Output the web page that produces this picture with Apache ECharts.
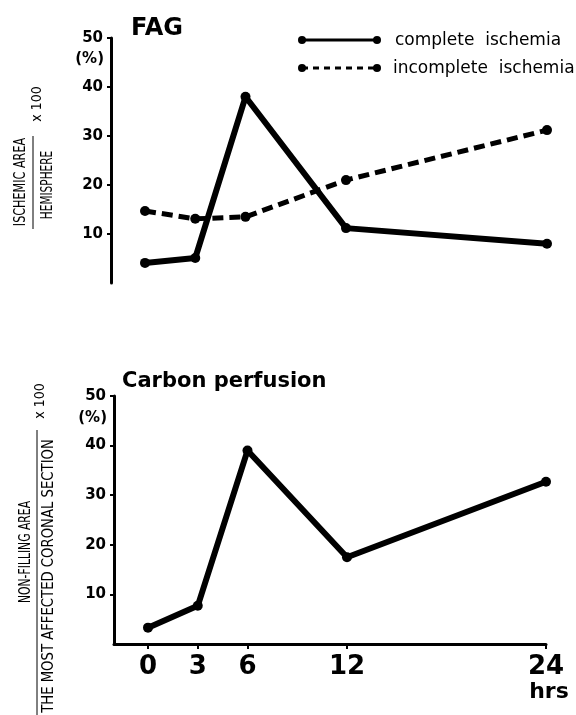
<!DOCTYPE html>
<html lang="en">
<head>
    <meta charset="UTF-8">
    <title>FAG / Carbon perfusion</title>
    <script src="https://cdn.jsdelivr.net/npm/echarts@6/dist/echarts.min.js"></script>
    <style>
        html, body { margin: 0; padding: 0; background: #fff; }
        #chart { width: 576px; height: 715px; }
    </style>
</head>
<body>
    <div id="chart"></div>
    <script>
    // values (time in hours, area in %)
    const hours = [0, 3, 6, 12, 24];
    const fagComplete = [4.1, 5.1, 38.0, 11.2, 8.0];
    const fagIncomplete = [14.7, 13.1, 13.5, 21.0, 31.2];
    const carbonComplete = [3.3, 7.7, 39.0, 17.5, 32.7];
    const legendNames = ['complete  ischemia', 'incomplete  ischemia'];

    const pairs = vals => hours.map((h, i) => [h, vals[i]]);
    const boldFont = 'DejaVu Sans';
    const thinFont = 'Liberation Sans Narrow';

    function yAxisFor(idx) {
        return {
            gridIndex: idx, type: 'value', min: 0, max: 50, interval: 10,
            splitLine: { show: false },
            axisLine: { show: true, onZero: false, lineStyle: { color: '#000', width: 3 } },
            axisTick: { show: true, length: 4, lineStyle: { color: '#000', width: 2 } },
            axisLabel: {
                showMinLabel: false, margin: 8, color: '#000',
                fontFamily: boldFont, fontWeight: 'bold', fontSize: 15
            }
        };
    }

    // vertical text, squeezed along its length like the typed original
    function rotText(x, y, text, size, squeeze) {
        return {
            type: 'text', x: x, y: y, rotation: Math.PI / 2, scaleX: squeeze || 1,
            style: { text: text, fill: '#000', font: size + 'px "' + thinFont + '", "DejaVu Sans Condensed", sans-serif',
                     textAlign: 'center', textVerticalAlign: 'middle' }
        };
    }

    const chart = echarts.init(document.getElementById('chart'));
    chart.setOption({
        backgroundColor: '#fff',
        animation: false,
        title: [
            { text: 'FAG', left: 126, top: 12,
              textStyle: { fontFamily: boldFont, fontWeight: 'bold', fontSize: 24, color: '#000' } },
            { text: 'Carbon perfusion', left: 117, top: 366,
              textStyle: { fontFamily: boldFont, fontWeight: 'bold', fontSize: 21, color: '#000' } }
        ],
        grid: [
            { left: 111, right: 29, top: 38, height: 245 },
            { left: 114, right: 30, top: 396, height: 248 }
        ],
        xAxis: [
            { gridIndex: 0, type: 'value', min: -2.03, max: 24, show: false },
            { gridIndex: 1, type: 'value', min: -2.05, max: 24,
              splitLine: { show: false },
              axisLine: { show: true, lineStyle: { color: '#000', width: 3 } },
              axisTick: { show: true, length: 5, customValues: hours,
                          lineStyle: { color: '#000', width: 2 } },
              axisLabel: { customValues: hours, margin: 10, color: '#000',
                           fontFamily: boldFont, fontWeight: 'bold', fontSize: 26 } }
        ],
        yAxis: [yAxisFor(0), yAxisFor(1)],
        series: [
            { name: legendNames[0], type: 'line', xAxisIndex: 0, yAxisIndex: 0,
              data: pairs(fagComplete), symbol: 'circle', symbolSize: 10,
              itemStyle: { color: '#000' }, lineStyle: { color: '#000', width: 6 } },
            { name: legendNames[1], type: 'line', xAxisIndex: 0, yAxisIndex: 0,
              data: pairs(fagIncomplete), symbol: 'circle', symbolSize: 10,
              itemStyle: { color: '#000' },
              lineStyle: { color: '#000', width: 5, type: [11, 6] } },
            { name: 'carbon', type: 'line', xAxisIndex: 1, yAxisIndex: 1,
              data: pairs(carbonComplete), symbol: 'circle', symbolSize: 10,
              itemStyle: { color: '#000' }, lineStyle: { color: '#000', width: 6 } }
        ],
        graphic: [
            // legend drawn by hand: line with dots at both ends
            { type: 'line', shape: { x1: 302, y1: 40, x2: 377, y2: 40 },
              style: { stroke: '#000', lineWidth: 3 } },
            { type: 'circle', shape: { cx: 302, cy: 40, r: 4 }, style: { fill: '#000' } },
            { type: 'circle', shape: { cx: 377, cy: 40, r: 4 }, style: { fill: '#000' } },
            { type: 'text', x: 395, y: 41,
              style: { text: legendNames[0], fill: '#000', font: '17px "DejaVu Sans"',
                       textAlign: 'left', textVerticalAlign: 'middle' } },
            { type: 'line', shape: { x1: 302, y1: 68, x2: 377, y2: 68 },
              style: { stroke: '#000', lineWidth: 3, lineDash: [6, 5] } },
            { type: 'circle', shape: { cx: 302, cy: 68, r: 4 }, style: { fill: '#000' } },
            { type: 'circle', shape: { cx: 377, cy: 68, r: 4 }, style: { fill: '#000' } },
            { type: 'text', x: 393, y: 69,
              style: { text: legendNames[1], fill: '#000', font: '17px "DejaVu Sans"',
                       textAlign: 'left', textVerticalAlign: 'middle' } },

            // "(%)" under the 50 labels
            { type: 'text', x: 104, y: 59,
              style: { text: '(%)', fill: '#000', font: 'bold 15px "DejaVu Sans"',
                       textAlign: 'right', textVerticalAlign: 'middle' } },
            { type: 'text', x: 107, y: 418,
              style: { text: '(%)', fill: '#000', font: 'bold 15px "DejaVu Sans"',
                       textAlign: 'right', textVerticalAlign: 'middle' } },

            // "hrs" under the 24
            { type: 'text', x: 549, y: 692,
              style: { text: 'hrs', fill: '#000', font: 'bold 22px "DejaVu Sans"',
                       textAlign: 'center', textVerticalAlign: 'middle' } },

            // y axis names written as fractions
            rotText(21, 182, 'ISCHEMIC AREA', 15, 0.83),
            { type: 'line', shape: { x1: 33, y1: 136, x2: 33, y2: 229 },
              style: { stroke: '#000', lineWidth: 1 } },
            rotText(48, 185, 'HEMISPHERE', 15, 0.78),
            rotText(37, 104, 'x 100', 14),

            rotText(26, 552, 'NON-FILLING AREA', 15, 0.8),
            { type: 'line', shape: { x1: 37, y1: 430, x2: 37, y2: 715 },
              style: { stroke: '#000', lineWidth: 1 } },
            rotText(49, 576, 'THE MOST AFFECTED CORONAL SECTION', 15, 0.98),
            rotText(40, 401, 'x 100', 14)
        ]
    });
    </script>
</body>
</html>
